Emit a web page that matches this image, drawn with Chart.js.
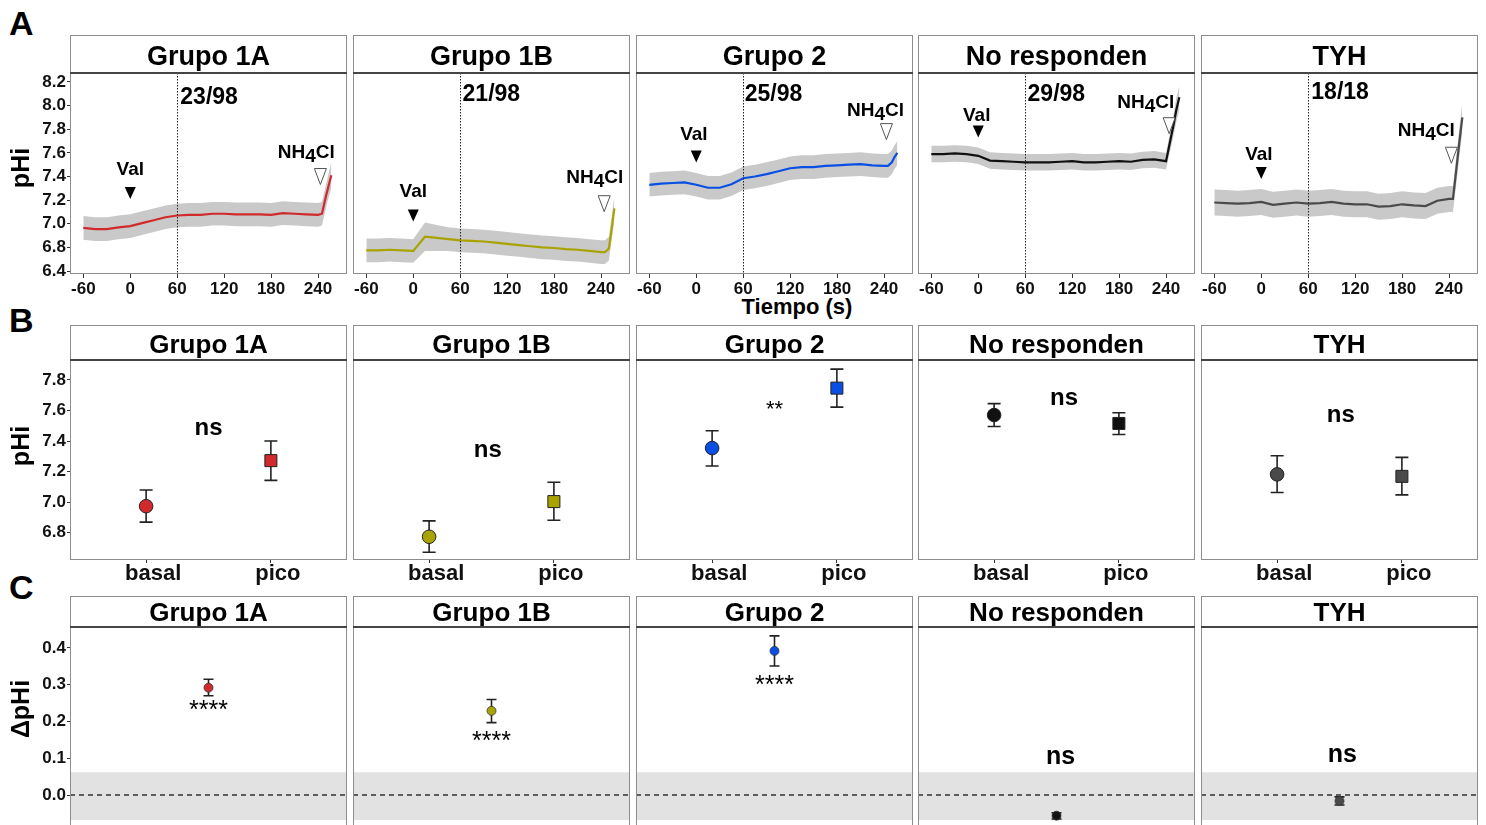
<!DOCTYPE html>
<html><head><meta charset="utf-8">
<script src="https://cdn.jsdelivr.net/npm/chart.js@4.4.0/dist/chart.umd.min.js"></script>
<style>
html,body{margin:0;padding:0;background:#fff;overflow:hidden;width:1486px;height:825px;position:relative;font-family:"Liberation Sans",Arial,Helvetica,sans-serif;}
canvas{position:absolute;}
.lbl{position:absolute;font-weight:bold;color:#000;line-height:1;white-space:nowrap;}
</style></head><body>
<div class="lbl" style="left:9px;top:6px;font-size:34px">A</div>
<div class="lbl" style="left:9px;top:303px;font-size:34px">B</div>
<div class="lbl" style="left:9px;top:570px;font-size:34px">C</div>
<div class="lbl" style="left:697px;top:296px;width:200px;text-align:center;font-size:22px">Tiempo (s)</div>
<script>
// ---------------- DATA ----------------
const grupos = ["Grupo 1A", "Grupo 1B", "Grupo 2", "No responden", "TYH"];
const colores = ["#d12a2c", "#a9a300", "#0a4fe4", "#111111", "#4a4a4a"];
const fracciones = ["23/98", "21/98", "25/98", "29/98", "18/18"];

// Panel A: time course (mean and SD of pHi)
const tiempo = [-60,-45,-30,-15,0,15,30,45,60,75,90,105,120,135,150,165,180,195,210,225,240,245,250,253,257];
const media1A = [6.965,6.955,6.955,6.97,6.98,7.005,7.03,7.055,7.07,7.075,7.075,7.085,7.085,7.08,7.08,7.08,7.075,7.09,7.085,7.08,7.075,7.085,7.23,7.31,7.41];
const de1A    = [0.10,0.10,0.10,0.10,0.10,0.10,0.10,0.10,0.10,0.10,0.10,0.10,0.10,0.10,0.10,0.10,0.10,0.10,0.10,0.10,0.10,0.10,0.10,0.10,0.11];
const media1B = [6.775,6.775,6.78,6.775,6.77,6.89,6.88,6.87,6.86,6.855,6.85,6.84,6.83,6.82,6.81,6.80,6.795,6.785,6.78,6.77,6.76,6.76,6.79,6.93,7.13];
const de1B    = [0.10,0.10,0.10,0.10,0.10,0.12,0.11,0.10,0.10,0.10,0.10,0.10,0.10,0.10,0.10,0.10,0.10,0.10,0.10,0.10,0.10,0.10,0.10,0.10,0.10];
const media2  = [7.33,7.34,7.345,7.35,7.33,7.305,7.305,7.335,7.385,7.40,7.42,7.445,7.47,7.48,7.48,7.49,7.495,7.50,7.505,7.495,7.49,7.49,7.52,7.56,7.60];
const de2     = [0.10,0.10,0.10,0.10,0.10,0.10,0.10,0.10,0.10,0.10,0.10,0.10,0.10,0.10,0.10,0.10,0.10,0.10,0.10,0.10,0.10,0.10,0.10,0.10,0.10];
const mediaNR = [7.59,7.59,7.595,7.59,7.575,7.535,7.53,7.525,7.52,7.52,7.52,7.525,7.53,7.52,7.52,7.525,7.53,7.525,7.54,7.545,7.53,7.69,7.85,7.96,8.07];
const deNR    = [0.07,0.07,0.07,0.07,0.07,0.07,0.07,0.07,0.07,0.07,0.07,0.07,0.07,0.07,0.07,0.07,0.07,0.07,0.07,0.07,0.07,0.08,0.09,0.10,0.10];
const mediaTYH= [7.18,7.175,7.17,7.175,7.185,7.16,7.17,7.18,7.17,7.175,7.185,7.17,7.165,7.165,7.145,7.15,7.165,7.155,7.15,7.195,7.21,7.21,7.50,7.68,7.90];
const deTYH   = [0.11,0.11,0.11,0.11,0.11,0.11,0.11,0.11,0.11,0.11,0.11,0.11,0.11,0.11,0.11,0.11,0.11,0.11,0.11,0.11,0.11,0.11,0.12,0.12,0.12];
const mediasA = [media1A, media1B, media2, mediaNR, mediaTYH];
const desvA   = [de1A, de1B, de2, deNR, deTYH];
const ticksTiempo = [-60, 0, 60, 120, 180, 240];
const ticksPHiA = [6.6, 6.8, 7.0, 7.2, 7.4, 7.6, 7.8, 8.0, 8.2];
const etiquetasPHiA = ["6.4", "6.8", "7.0", "7.2", "7.4", "7.6", "7.8", "8.0", "8.2"];

// Panel B: basal vs pico (mean, lower, upper)
const categoriasB = ["basal", "pico"];
const basalMedia = [6.974, 6.774, 7.354, 7.570, 7.182];
const basalInf   = [6.870, 6.673, 7.237, 7.495, 7.063];
const basalSup   = [7.080, 6.878, 7.467, 7.645, 7.304];
const picoMedia  = [7.272, 7.004, 7.746, 7.515, 7.169];
const picoInf    = [7.143, 6.882, 7.622, 7.443, 7.048];
const picoSup    = [7.400, 7.130, 7.870, 7.585, 7.293];
const signifB    = ["ns", "ns", "**", "ns", "ns"];
const ticksPHiB  = [6.8, 7.0, 7.2, 7.4, 7.6, 7.8];

// Panel C: delta pHi
const deltaMedia = [0.292, 0.229, 0.392, -0.056, -0.016];
const deltaInf   = [0.270, 0.197, 0.351, -0.065, -0.027];
const deltaSup   = [0.315, 0.260, 0.433, -0.048, -0.005];
const signifC    = ["****", "****", "****", "ns", "ns"];
const ticksDelta = [0.0, 0.1, 0.2, 0.3, 0.4];
const bandaC     = [-0.068, 0.062];

// ---------------- LAYOUT / STYLE ----------------
const FONT = '"Liberation Sans", Arial, Helvetica, sans-serif';
const colX = [70, 353, 636, 918, 1201];
const PW = 277, YW = 70;
const filas = {
  A: {top: 35, head: 38, plot: 201, axis: 32, title: "pHi", titleY: 133, hsize: 27, hoff: 4},
  B: {top: 325, head: 35, plot: 200, axis: 32, title: "pHi", titleY: 121, hsize: 26, hoff: 3},
  C: {top: 596, head: 31, plot: 203, axis: 0, title: "\u0394pHi", titleY: 113, hsize: 26, hoff: 2}
};
// annotation anchors (data coordinates) for panel A
const anotA = [
  {val: [0, 7.455], tri: [0, 7.26], nh: [225, 7.60], ntri: [243, 7.40], frac: [64, 8.07]},
  {val: [0, 7.27], tri: [0, 7.07], nh: [232, 7.39], ntri: [244, 7.17], frac: [63, 8.09]},
  {val: [-3, 7.75], tri: [0, 7.57], nh: [229, 7.96], ntri: [243, 7.78], frac: [62, 8.09]},
  {val: [-2, 7.91], tri: [0, 7.78], nh: [214, 8.02], ntri: [244, 7.83], frac: [63, 8.09]},
  {val: [-3, 7.58], tri: [0, 7.43], nh: [211, 7.79], ntri: [243, 7.58], frac: [64, 8.11]}
];
const anotB = [[1.5, 7.485], [1.47, 7.339], [1.5, 7.637], [1.56, 7.68], [1.51, 7.565]];
const anotC = [[1, 0.245], [1, 0.16], [1, 0.312], [1.03, 0.104], [1.02, 0.109]];

function makeCanvas(left, top, w, h) {
  const c = document.createElement('canvas');
  c.width = w; c.height = h;
  c.style.left = left + 'px'; c.style.top = top + 'px';
  c.style.width = w + 'px'; c.style.height = h + 'px';
  document.body.appendChild(c);
  return c;
}

function drawFrame(chart, fila, titulo, first) {
  const ctx = chart.ctx, a = chart.chartArea;
  ctx.save();
  ctx.strokeStyle = '#8d8d8d'; ctx.lineWidth = 1;
  ctx.strokeRect(Math.round(a.left) + 0.5, Math.round(a.top - fila.head) + 0.5,
                 Math.round(a.right - a.left) - 1, Math.round(a.bottom - a.top + fila.head) - 1);
  ctx.strokeStyle = '#454545'; ctx.lineWidth = 2;
  ctx.beginPath(); ctx.moveTo(a.left, a.top); ctx.lineTo(a.right, a.top); ctx.stroke();
  ctx.fillStyle = '#000'; ctx.font = 'bold ' + fila.hsize + 'px ' + FONT;
  ctx.textAlign = 'center'; ctx.textBaseline = 'middle';
  ctx.fillText(titulo, (a.left + a.right) / 2, a.top - fila.head / 2 + fila.hoff);
  if (first) {
    ctx.save();
    ctx.translate(22, fila.titleY);
    ctx.rotate(-Math.PI / 2);
    ctx.font = 'bold 25px ' + FONT;
    ctx.fillText(fila.title, 0, 0);
    ctx.restore();
  }
  ctx.restore();
}

function txt(ctx, s, x, y, font, align) {
  ctx.font = font; ctx.textAlign = align || 'center'; ctx.textBaseline = 'middle';
  ctx.fillStyle = '#000'; ctx.fillText(s, x, y);
}

function errorBar(ctx, x, y1, y2, cap) {
  ctx.beginPath();
  ctx.moveTo(x, y1); ctx.lineTo(x, y2);
  ctx.moveTo(x - cap, y1); ctx.lineTo(x + cap, y1);
  ctx.moveTo(x - cap, y2); ctx.lineTo(x + cap, y2);
  ctx.stroke();
}

function yScale(min, max, ticks, labels, show) {
  return {
    type: 'linear', min: min, max: max, display: show,
    afterBuildTicks: s => { s.ticks = ticks.map(v => ({value: v})); },
    afterFit: s => { s.width = show ? YW : 0; s.paddingTop = 0; s.paddingBottom = 0; },
    grid: {display: true, drawOnChartArea: false, drawTicks: true, tickLength: 3, color: '#333'},
    border: {display: false},
    ticks: {font: {size: 17, weight: 'bold', family: FONT}, color: '#111', padding: 1,
      callback: v => { const k = ticks.findIndex(t => Math.abs(t - v) < 1e-6); return k >= 0 ? labels[k] : ''; }}
  };
}

function baseLayout(f) {
  return {autoPadding: false, padding: {top: f.head, right: 1, left: 0, bottom: 0}};
}

// ---------------- ROW A ----------------
grupos.forEach((g, i) => {
  const f = filas.A, first = i === 0;
  const w = PW + (first ? YW : 0) + 1, h = f.head + f.plot + f.axis;
  const cv = makeCanvas(colX[i] - (first ? YW : 0), f.top, w, h);
  const m = mediasA[i], d = desvA[i];
  const an = anotA[i];
  new Chart(cv, {
    type: 'line',
    data: {datasets: [
      {data: tiempo.map((t, k) => ({x: t, y: m[k]})), borderColor: colores[i], borderWidth: 2.2, pointRadius: 0, fill: false, tension: 0},
      {data: tiempo.map((t, k) => ({x: t, y: m[k] + d[k]})), borderColor: 'rgba(0,0,0,0)', borderWidth: 1, pointRadius: 0, fill: '+1', backgroundColor: '#c9c9c9', tension: 0},
      {data: tiempo.map((t, k) => ({x: t, y: m[k] - d[k]})), borderColor: 'rgba(0,0,0,0)', borderWidth: 1, pointRadius: 0, fill: false}
    ]},
    options: {
      responsive: false, animation: false, devicePixelRatio: 1,
      layout: baseLayout(f),
      plugins: {legend: {display: false}, tooltip: {enabled: false}},
      scales: {
        x: {type: 'linear', min: -77, max: 277,
          afterBuildTicks: s => { s.ticks = ticksTiempo.map(v => ({value: v})); },
          afterFit: s => { s.height = f.axis; s.paddingLeft = 0; s.paddingRight = 0; },
          grid: {display: true, drawOnChartArea: false, drawTicks: true, tickLength: 4, color: '#333'},
          border: {display: false},
          ticks: {font: {size: 17, weight: 'bold', family: FONT}, color: '#111', padding: 1, maxRotation: 0, autoSkip: false,
            callback: v => String(v)}},
        y: yScale(6.575, 8.276, ticksPHiA, etiquetasPHiA, first)
      }
    },
    plugins: [{
      id: 'pA' + i,
      afterDraw(chart) {
        const ctx = chart.ctx, xs = chart.scales.x, ys = chart.scales.y, a = chart.chartArea;
        ctx.save();
        ctx.strokeStyle = '#222'; ctx.lineWidth = 1; ctx.setLineDash([1.5, 1.5]);
        const x60 = Math.round(xs.getPixelForValue(60)) + 0.5;
        ctx.beginPath(); ctx.moveTo(x60, a.top); ctx.lineTo(x60, a.bottom); ctx.stroke();
        ctx.setLineDash([]);
        txt(ctx, fracciones[i], xs.getPixelForValue(an.frac[0]), ys.getPixelForValue(an.frac[1]), 'bold 23px ' + FONT, 'left');
        txt(ctx, 'Val', xs.getPixelForValue(an.val[0]), ys.getPixelForValue(an.val[1]), 'bold 19px ' + FONT);
        let cx = xs.getPixelForValue(an.tri[0]), cy = ys.getPixelForValue(an.tri[1]);
        ctx.fillStyle = '#000';
        ctx.beginPath(); ctx.moveTo(cx - 5.5, cy - 6); ctx.lineTo(cx + 5.5, cy - 6); ctx.lineTo(cx, cy + 6); ctx.closePath(); ctx.fill();
        ctx.font = 'bold 19px ' + FONT;
        const w1 = ctx.measureText('NH').width, w2 = ctx.measureText('4').width, w3 = ctx.measureText('Cl').width;
        let sx = xs.getPixelForValue(an.nh[0]) - (w1 + w2 + w3) / 2, sy = ys.getPixelForValue(an.nh[1]);
        txt(ctx, 'NH', sx, sy, 'bold 19px ' + FONT, 'left');
        txt(ctx, '4', sx + w1, sy + 4, 'bold 19px ' + FONT, 'left');
        txt(ctx, 'Cl', sx + w1 + w2, sy, 'bold 19px ' + FONT, 'left');
        cx = xs.getPixelForValue(an.ntri[0]); cy = ys.getPixelForValue(an.ntri[1]);
        ctx.fillStyle = '#fff'; ctx.strokeStyle = '#555'; ctx.lineWidth = 1;
        ctx.beginPath(); ctx.moveTo(cx - 6, cy - 8); ctx.lineTo(cx + 6, cy - 8); ctx.lineTo(cx, cy + 8); ctx.closePath(); ctx.fill(); ctx.stroke();
        ctx.restore();
        drawFrame(chart, f, g, first);
      }
    }]
  });
});

// ---------------- ROW B ----------------
grupos.forEach((g, i) => {
  const f = filas.B, first = i === 0;
  const w = PW + (first ? YW : 0) + 1, h = f.head + f.plot + f.axis;
  const cv = makeCanvas(colX[i] - (first ? YW : 0), f.top, w, h);
  new Chart(cv, {
    type: 'scatter',
    data: {datasets: [{
      data: [{x: 1, y: basalMedia[i]}, {x: 2, y: picoMedia[i]}],
      pointStyle: ['circle', 'rect'], pointRadius: [6.8, 8.5],
      backgroundColor: colores[i], borderColor: '#222', borderWidth: 1
    }]},
    options: {
      responsive: false, animation: false, devicePixelRatio: 1,
      layout: baseLayout(f),
      plugins: {legend: {display: false}, tooltip: {enabled: false}},
      scales: {
        x: {type: 'linear', min: 0.39, max: 2.61,
          afterBuildTicks: s => { s.ticks = [1, 2].map(v => ({value: v})); },
          afterFit: s => { s.height = f.axis; s.paddingLeft = 0; s.paddingRight = 0; },
          grid: {display: true, drawOnChartArea: false, drawTicks: true, tickLength: 3, color: '#333'},
          border: {display: false},
          ticks: {font: {size: 22, weight: 'bold', family: FONT}, color: '#111', padding: -2, maxRotation: 0, autoSkip: false,
            labelOffset: 7, callback: v => categoriasB[Math.round(v) - 1]}},
        y: yScale(6.622, 7.93, ticksPHiB, ticksPHiB.map(v => v.toFixed(1)), first)
      }
    },
    plugins: [{
      id: 'pB' + i,
      beforeDatasetsDraw(chart) {
        const ctx = chart.ctx, xs = chart.scales.x, ys = chart.scales.y;
        ctx.save();
        ctx.strokeStyle = '#222'; ctx.lineWidth = 1.6;
        errorBar(ctx, xs.getPixelForValue(1), ys.getPixelForValue(basalSup[i]), ys.getPixelForValue(basalInf[i]), 6.5);
        errorBar(ctx, xs.getPixelForValue(2), ys.getPixelForValue(picoSup[i]), ys.getPixelForValue(picoInf[i]), 6.5);
        const s = signifB[i];
        const star = s.indexOf('*') >= 0;
        txt(ctx, s, xs.getPixelForValue(anotB[i][0]), ys.getPixelForValue(anotB[i][1]) + (star ? 5 : 0), star ? '22px ' + FONT : 'bold 24px ' + FONT);
        ctx.restore();
      },
      afterDraw(chart) { drawFrame(chart, f, g, first); }
    }]
  });
});

// ---------------- ROW C ----------------
grupos.forEach((g, i) => {
  const f = filas.C, first = i === 0;
  const w = PW + (first ? YW : 0) + 1, h = f.head + f.plot;
  const cv = makeCanvas(colX[i] - (first ? YW : 0), f.top, w, h);
  new Chart(cv, {
    type: 'scatter',
    data: {datasets: [{
      data: [{x: 1, y: deltaMedia[i]}],
      pointStyle: 'circle', pointRadius: 4.5,
      backgroundColor: colores[i], borderColor: '#333', borderWidth: 0.8
    }]},
    options: {
      responsive: false, animation: false, devicePixelRatio: 1,
      layout: baseLayout(f),
      plugins: {legend: {display: false}, tooltip: {enabled: false}},
      scales: {
        x: {type: 'linear', min: 0, max: 2, display: false},
        y: yScale(-0.095, 0.457, ticksDelta, ticksDelta.map(v => v.toFixed(1)), first)
      }
    },
    plugins: [{
      id: 'pC' + i,
      beforeDatasetsDraw(chart) {
        const ctx = chart.ctx, xs = chart.scales.x, ys = chart.scales.y, a = chart.chartArea;
        ctx.save();
        const yb1 = ys.getPixelForValue(bandaC[1]), yb0 = ys.getPixelForValue(bandaC[0]);
        ctx.fillStyle = '#e2e2e2';
        ctx.fillRect(a.left, yb1, a.right - a.left, yb0 - yb1);
        ctx.strokeStyle = '#333'; ctx.lineWidth = 1.5; ctx.setLineDash([5, 4]);
        const y0 = ys.getPixelForValue(0);
        ctx.beginPath(); ctx.moveTo(a.left, y0); ctx.lineTo(a.right, y0); ctx.stroke();
        ctx.setLineDash([]);
        ctx.strokeStyle = '#222'; ctx.lineWidth = 1.6;
        errorBar(ctx, xs.getPixelForValue(1), ys.getPixelForValue(deltaSup[i]), ys.getPixelForValue(deltaInf[i]), 5);
        const s = signifC[i];
        const star = s.indexOf('*') >= 0;
        txt(ctx, s, xs.getPixelForValue(anotC[i][0]), ys.getPixelForValue(anotC[i][1]) + (star ? 6 : 0), star ? '25px ' + FONT : 'bold 25px ' + FONT);
        ctx.restore();
      },
      afterDraw(chart) { drawFrame(chart, f, g, first); }
    }]
  });
});
</script>
</body></html>
